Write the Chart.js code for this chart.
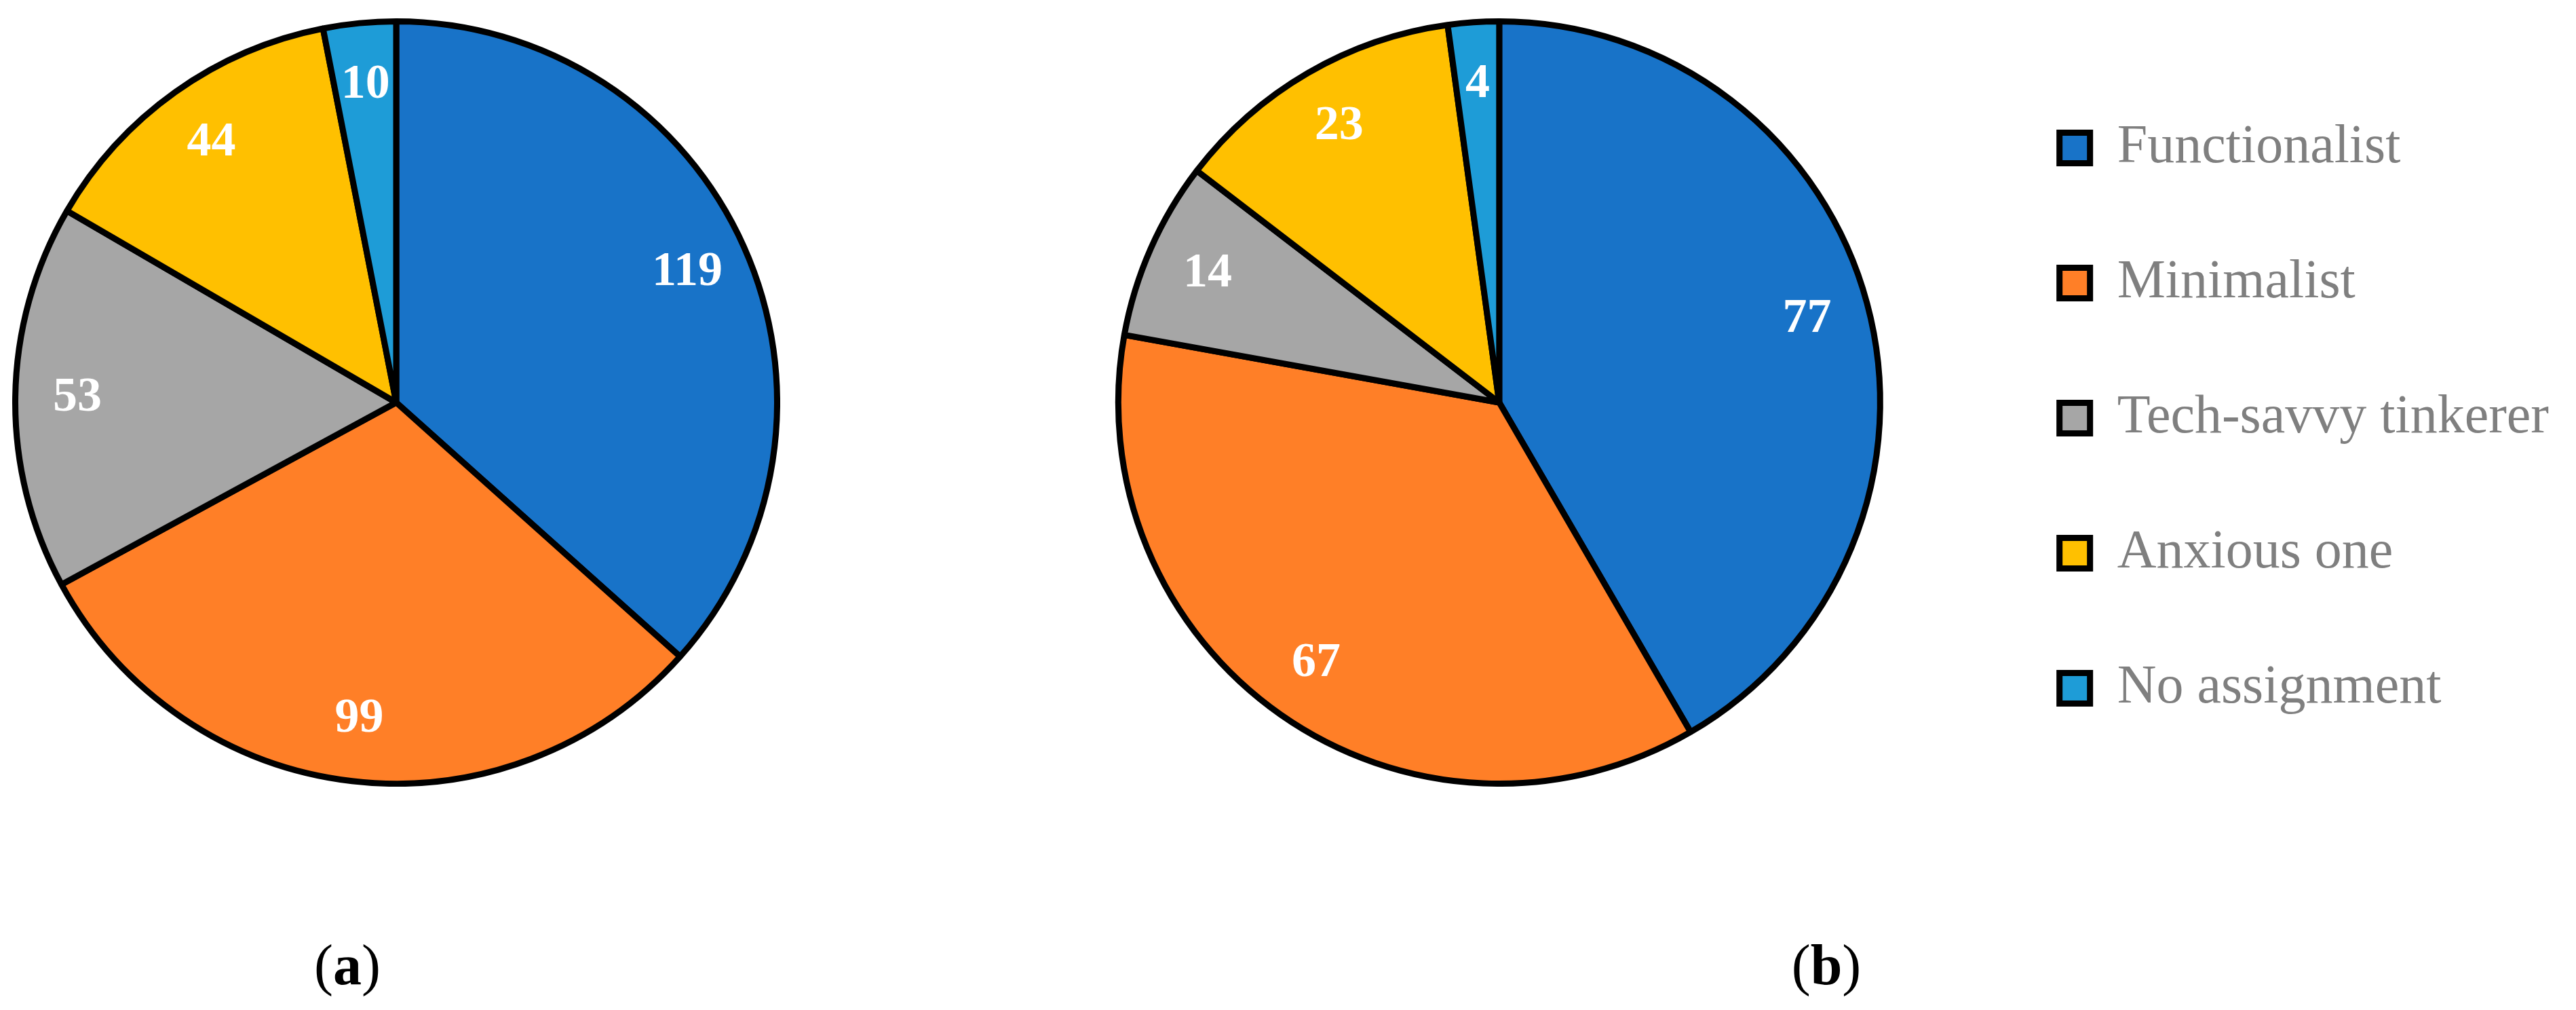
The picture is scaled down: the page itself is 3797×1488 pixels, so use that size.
<!DOCTYPE html>
<html>
<head>
<meta charset="utf-8">
<title>Pie charts (a) and (b)</title>
<script src="https://cdn.jsdelivr.net/npm/chart.js@4.4.1/dist/chart.umd.min.js"></script>
<style>
  html, body { margin: 0; padding: 0; background: #fff; }
  body { width: 3797px; height: 1488px; position: relative; overflow: hidden; }
  canvas { position: absolute; }
  .caption {
    position: absolute; top: 1372px; width: 240px; line-height: 100px;
    text-align: center; font-size: 84px; color: #000;
    font-family: "Palatino Linotype", "Book Antiqua", Palatino, "Liberation Serif", serif;
  }
</style>
</head>
<body>
<canvas id="chartA"></canvas>
<canvas id="chartB"></canvas>
<div class="caption" style="left:392px">(<b>a</b>)</div>
<div class="caption" style="left:2572px">(<b>b</b>)</div>

<script>
const categories = ['Functionalist', 'Minimalist', 'Tech-savvy tinkerer', 'Anxious one', 'No assignment'];
const valuesA = [119, 99, 53, 44, 10];
const valuesB = [77, 67, 14, 23, 4];
const sliceColors = ['#1873C8', '#FF7F27', '#A6A6A6', '#FFC000', '#1E9CD7'];

document.addEventListener("DOMContentLoaded", function(){
    const serif = '"Palatino Linotype", "Book Antiqua", Palatino, "Liberation Serif", serif';
    const radius = 566;          // visible radius incl. border
    const centerY = 593;
    const legendFontSize = 80;
    const legendPadding = 119;
    const legendBox = 45;

    // white numbers inside each slice
    const sliceLabels = {
        id: 'sliceLabels',
        afterDatasetsDraw(chart, args, opts) {
            const ctx = chart.ctx;
            const meta = chart.getDatasetMeta(0);
            const values = chart.data.datasets[0].data;
            ctx.save();
            ctx.font = 'bold 72px ' + serif;
            ctx.fillStyle = '#ffffff';
            ctx.textAlign = 'center';
            ctx.textBaseline = 'middle';
            meta.data.forEach((arc, i) => {
                const p = arc.getProps(['x', 'y', 'startAngle', 'endAngle', 'outerRadius'], true);
                const mid = (p.startAngle + p.endAngle) / 2;
                const r = p.outerRadius * opts.position;
                ctx.fillText(String(values[i]), p.x + Math.cos(mid) * r, p.y + Math.sin(mid) * r);
            });
            ctx.restore();
        }
    };

    // push the legend down a little, it sits lower than the pie centre
    const nudgeLegend = {
        id: 'nudgeLegend',
        afterLayout(chart, args, opts) {
            const lg = chart.legend;
            if (!lg || !opts.dy) return;
            lg.top += opts.dy;
            lg.bottom += opts.dy;
        }
    };

    function pieConfig(values, showLegend) {
        return {
            type: 'pie',
            data: {
                labels: categories,
                datasets: [{
                    data: values,
                    backgroundColor: sliceColors,
                    borderColor: '#000000',
                    borderWidth: 9
                }]
            },
            options: {
                responsive: false,
                animation: false,
                events: [],
                layout: { padding: 0 },
                plugins: {
                    tooltip: { enabled: false },
                    sliceLabels: { position: 0.837 },
                    nudgeLegend: { dy: 23 },
                    legend: {
                        display: showLegend,
                        position: 'right',
                        align: 'center',
                        labels: {
                            color: '#7F7F7F',
                            boxWidth: legendBox,
                            boxHeight: legendBox,
                            padding: legendPadding,
                            font: { family: serif, size: legendFontSize }
                        }
                    }
                }
            },
            plugins: [sliceLabels, nudgeLegend]
        };
    }

    // chart (a)
    const canvasA = document.getElementById('chartA');
    canvasA.width = radius * 2;
    canvasA.height = radius * 2;
    canvasA.style.left = (584 - radius) + 'px';
    canvasA.style.top = (centerY - radius) + 'px';
    new Chart(canvasA.getContext('2d'), pieConfig(valuesA, false));

    // chart (b) with legend on the right; width from the text so the pie lands where it should
    const measure = document.createElement('canvas').getContext('2d');
    measure.font = legendFontSize + 'px ' + serif;
    const textW = Math.max(...categories.map(t => measure.measureText(t).width));
    const legendW = legendPadding + legendBox + legendFontSize / 2 + textW;
    const centerXB = 2214;
    const legendLeft = 3044.5 - legendPadding;
    const areaW = 2 * (legendLeft - centerXB);

    const canvasB = document.getElementById('chartB');
    canvasB.width = Math.ceil(areaW + legendW);
    canvasB.height = radius * 2;
    canvasB.style.left = (centerXB - areaW / 2) + 'px';
    canvasB.style.top = (centerY - radius) + 'px';
    new Chart(canvasB.getContext('2d'), pieConfig(valuesB, true));
});
</script>
</body>
</html>
